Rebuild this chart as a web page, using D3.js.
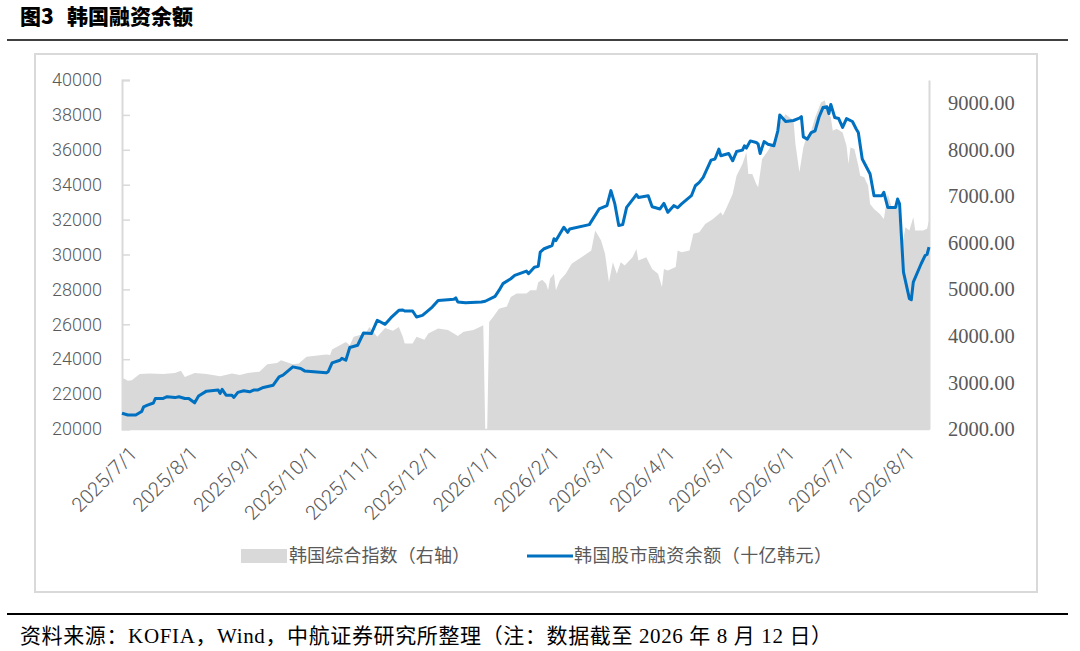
<!DOCTYPE html>
<html>
<head>
<meta charset="utf-8">
<script src="https://cdn.jsdelivr.net/npm/d3@7"></script>
<style>
  body { margin: 0; background: #fff; }
  svg { display: block; }
</style>
</head>
<body>
<div id="chart"></div>
<script>
// 韩国股市融资余额（十亿韩元）
const marginDates = [
  "2025-06-27","2025-06-30","2025-07-04","2025-07-07","2025-07-08","2025-07-10","2025-07-13","2025-07-14",
  "2025-07-18","2025-07-20","2025-07-24","2025-07-26","2025-07-29","2025-07-31","2025-08-03","2025-08-05",
  "2025-08-09","2025-08-15","2025-08-16","2025-08-17","2025-08-19","2025-08-22","2025-08-23","2025-08-25",
  "2025-08-28","2025-08-31","2025-09-02","2025-09-04","2025-09-07","2025-09-12","2025-09-15","2025-09-17",
  "2025-09-22","2025-09-26","2025-09-28","2025-10-09","2025-10-10","2025-10-12","2025-10-16","2025-10-17",
  "2025-10-19","2025-10-21","2025-10-25","2025-10-28","2025-11-01","2025-11-04","2025-11-08","2025-11-11",
  "2025-11-15","2025-11-17","2025-11-18","2025-11-22","2025-11-24","2025-11-27","2025-11-29","2025-12-02",
  "2025-12-05","2025-12-10","2025-12-13","2025-12-14","2025-12-15","2025-12-19","2025-12-27","2025-12-29",
  "2026-01-03","2026-01-05","2026-01-07","2026-01-11","2026-01-13","2026-01-19","2026-01-20","2026-01-23",
  "2026-01-25","2026-01-26","2026-01-28","2026-02-01","2026-02-02","2026-02-03","2026-02-07","2026-02-09",
  "2026-02-10","2026-02-20","2026-02-25","2026-03-01","2026-03-03","2026-03-05","2026-03-07","2026-03-09",
  "2026-03-11","2026-03-16","2026-03-17","2026-03-22","2026-03-24","2026-03-28","2026-03-30","2026-04-01",
  "2026-04-04","2026-04-06","2026-04-08","2026-04-13","2026-04-15","2026-04-17","2026-04-19","2026-04-23",
  "2026-04-25","2026-04-27","2026-04-28","2026-05-02","2026-05-04","2026-05-06","2026-05-09","2026-05-10",
  "2026-05-11","2026-05-13","2026-05-16","2026-05-17","2026-05-18","2026-05-20","2026-05-22","2026-05-25",
  "2026-05-27","2026-05-28","2026-05-31","2026-06-04","2026-06-07","2026-06-08","2026-06-09","2026-06-11",
  "2026-06-13","2026-06-15","2026-06-17","2026-06-19","2026-06-21","2026-06-22","2026-06-23","2026-06-25",
  "2026-06-27","2026-06-29","2026-07-01","2026-07-04","2026-07-06","2026-07-07","2026-07-09","2026-07-13",
  "2026-07-15","2026-07-19","2026-07-20","2026-07-22","2026-07-26","2026-07-27","2026-07-28","2026-07-30",
  "2026-08-02","2026-08-03","2026-08-04","2026-08-08","2026-08-10","2026-08-11","2026-08-12"
];
const marginValues = [
  20900,20800,20800,21000,21270,21370,21490,21750,
  21750,21850,21800,21850,21750,21750,21500,21890,
  22170,22230,22040,22270,21940,21940,21810,22100,
  22190,22130,22230,22230,22380,22510,22990,23090,
  23560,23470,23330,23220,23280,23790,23940,24050,
  23940,24670,24800,25500,25470,26230,26000,26380,
  26800,26820,26760,26760,26420,26510,26700,26990,
  27370,27410,27430,27510,27280,27240,27280,27320,
  27600,27940,28330,28610,28800,29050,28900,29270,
  29320,30130,30330,30510,30900,30800,31560,31270,
  31460,31710,32610,32800,33660,32900,31660,31710,
  32700,33430,33270,33370,32740,32610,32930,32420,
  32800,32680,32900,33370,33940,34130,34420,35410,
  35470,36040,35660,35790,35370,35900,35980,36230,
  36100,36510,36420,36320,35790,36470,36320,36230,
  37090,38000,37620,37680,37810,37900,36740,36610,
  36990,37090,37880,38420,38470,38070,38600,37850,
  37790,37280,37790,37620,37180,36990,35470,34610,
  33370,33370,33560,32700,32700,33180,32900,28990,
  27470,27410,28420,29470,29940,30000,30420
];

// 韩国综合指数（右轴）
const kospiDates = [
  "2025-06-27","2025-06-28","2025-06-30","2025-07-02","2025-07-06","2025-07-11","2025-07-18","2025-07-24",
  "2025-07-27","2025-07-29","2025-08-03","2025-08-09","2025-08-16","2025-08-22","2025-08-26","2025-08-30",
  "2025-09-05","2025-09-09","2025-09-14","2025-09-16","2025-09-22","2025-09-25","2025-09-29","2025-10-09",
  "2025-10-11","2025-10-12","2025-10-19","2025-10-21","2025-10-23","2025-10-29","2025-10-31","2025-11-04",
  "2025-11-08","2025-11-12","2025-11-15","2025-11-17","2025-11-18","2025-11-22","2025-11-24","2025-11-28",
  "2025-11-30","2025-12-05","2025-12-10","2025-12-13","2025-12-15","2025-12-18","2025-12-23","2025-12-27",
  "2025-12-28","2025-12-29","2025-12-30","2025-12-31","2026-01-02","2026-01-05","2026-01-09","2026-01-11",
  "2026-01-14","2026-01-19","2026-01-21","2026-01-24","2026-01-25","2026-01-27","2026-01-29","2026-01-30",
  "2026-01-31","2026-02-02","2026-02-03","2026-02-05","2026-02-08","2026-02-11","2026-02-16","2026-02-21",
  "2026-02-23","2026-02-26","2026-02-28","2026-03-02","2026-03-04","2026-03-06","2026-03-08","2026-03-10",
  "2026-03-14","2026-03-16","2026-03-17","2026-03-21","2026-03-24","2026-03-27","2026-03-29","2026-03-30",
  "2026-04-01","2026-04-05","2026-04-06","2026-04-08","2026-04-12","2026-04-14","2026-04-17","2026-04-20",
  "2026-04-24","2026-04-28","2026-04-29","2026-05-01","2026-05-04","2026-05-06","2026-05-09","2026-05-11",
  "2026-05-12","2026-05-14","2026-05-16","2026-05-17","2026-05-19","2026-05-22","2026-05-26","2026-05-28",
  "2026-05-31","2026-06-04","2026-06-05","2026-06-07","2026-06-09","2026-06-10","2026-06-13","2026-06-15",
  "2026-06-18","2026-06-20","2026-06-21","2026-06-23","2026-06-24","2026-06-26","2026-06-29","2026-07-01",
  "2026-07-02","2026-07-03","2026-07-05","2026-07-07","2026-07-08","2026-07-10","2026-07-12","2026-07-13",
  "2026-07-15","2026-07-18","2026-07-20","2026-07-22","2026-07-24","2026-07-27","2026-07-29","2026-07-31",
  "2026-08-02","2026-08-04","2026-08-05","2026-08-09","2026-08-11","2026-08-12"
];
const kospiValues = [
  3065,3085,3035,3050,3180,3195,3180,3205,
  3250,3120,3205,3180,3135,3195,3160,3205,
  3230,3390,3420,3480,3390,3410,3550,3600,
  3590,3710,3870,3800,3980,4050,4190,3980,
  4170,4110,4190,3980,3840,3840,3980,3920,
  4050,4160,4130,4050,4000,4090,4130,4210,
  4230,2000,2000,4300,4405,4585,4635,4835,
  4910,4910,4980,4980,5155,5205,5120,4980,
  5230,5335,4980,5195,5335,5550,5690,5835,
  6265,6050,5765,5155,5585,5335,5585,5515,
  5690,5870,5620,5690,5440,5335,5050,5440,
  5405,5480,5835,5800,5835,6195,6230,6405,
  6515,6660,6590,6765,7050,7445,7695,7945,
  7480,7480,7265,7195,7800,7980,8265,8585,
  8765,8630,8120,7515,8050,8195,8410,8695,
  9015,9065,8835,8695,8410,8450,8370,8085,
  7695,8050,8015,7660,7445,7410,7230,6835,
  6730,6620,6515,7050,6765,6835,5870,6335,
  6265,6550,6265,6265,6305,6480
];

const leftTicks = [20000,22000,24000,26000,28000,30000,32000,34000,36000,38000,40000];
const rightTicks = [2000,3000,4000,5000,6000,7000,8000,9000];
const monthTicks = ["2025-07-01","2025-08-01","2025-09-01","2025-10-01","2025-11-01","2025-12-01","2026-01-01",
  "2026-02-01","2026-03-01","2026-04-01","2026-05-01","2026-06-01","2026-07-01","2026-08-01"];

const parse = d3.timeParse("%Y-%m-%d");
const fmtTick = d3.timeFormat("%Y/%-m/%-d");

const margin = marginDates.map((d, i) => ({ date: parse(d), value: marginValues[i] }));
const kospi = kospiDates.map((d, i) => ({ date: parse(d), value: kospiValues[i] }));

const svg = d3.select("#chart").append("svg")
  .attr("width", 1080)
  .attr("height", 651);

const grey = "#d9d9d9";
const textGrey = "#595959";

// 标题和分割线
const title = svg.append("text")
  .attr("y", 24)
  .style("font-family", "'Noto Sans CJK SC'")
  .style("font-weight", 900)
  .style("font-size", "21px")
  .attr("fill", "#000");
title.append("tspan").attr("x", 20).text("图3");
title.append("tspan").attr("x", 67).text("韩国融资余额");

svg.append("line").attr("x1", 7).attr("x2", 1068).attr("y1", 40).attr("y2", 40)
  .attr("stroke", "#000").attr("stroke-width", 1.5);

svg.append("rect")
  .attr("x", 35).attr("y", 54).attr("width", 1002).attr("height", 538)
  .attr("fill", "none").attr("stroke", grey).attr("stroke-width", 2);

// scales
const x = d3.scaleTime()
  .domain([parse("2025-06-27"), parse("2026-08-12")])
  .range([122, 929]);
const yL = d3.scaleLinear().domain([20000, 40000]).range([429, 80]);
const yR = d3.scaleLinear().domain([2000, 9500]).range([429, 80]);

// 韩国综合指数面积
const area = d3.area()
  .x(d => x(d.date))
  .y0(yR(2000))
  .y1(d => yR(d.value));

svg.append("path")
  .datum(kospi)
  .attr("fill", grey)
  .attr("d", area);

// 左轴
const leftAxis = svg.append("g")
  .attr("transform", "translate(122,0)")
  .call(d3.axisRight(yL).tickValues(leftTicks).tickSize(8).tickFormat(d3.format("d")));
leftAxis.select(".domain").attr("stroke", grey).attr("stroke-width", 2);
leftAxis.selectAll(".tick line").attr("stroke", grey).attr("stroke-width", 1.5);
leftAxis.selectAll(".tick text")
  .attr("x", -20)
  .attr("text-anchor", "end")
  .attr("fill", textGrey)
  .style("font-family", "Roboto")
  .style("font-weight", 300)
  .style("font-size", "18px");

// 右轴
const rightAxis = svg.append("g")
  .attr("transform", "translate(929,0)")
  .call(d3.axisRight(yR).tickValues(rightTicks).tickSize(0).tickFormat(d3.format(".2f")));
rightAxis.select(".domain").attr("stroke", grey).attr("stroke-width", 2);
rightAxis.selectAll(".tick text")
  .attr("x", 19)
  .attr("fill", textGrey)
  .style("font-family", "'Liberation Serif'")
  .style("font-size", "20.5px");

// x轴
const xAxis = svg.append("g")
  .attr("transform", "translate(0,429)")
  .call(d3.axisBottom(x).tickValues(monthTicks.map(parse)).tickSize(0).tickFormat(fmtTick));
xAxis.select(".domain").attr("stroke", grey).attr("stroke-width", 1.5);
xAxis.selectAll(".tick text")
  .attr("y", 0)
  .attr("dy", 0)
  .attr("text-anchor", "end")
  .attr("transform", "translate(8,26) rotate(-45)")
  .attr("fill", textGrey)
  .style("font-family", "Roboto")
  .style("font-weight", 300)
  .style("font-size", "20px");

// 融资余额折线
const line = d3.line()
  .x(d => x(d.date))
  .y(d => yL(d.value));

svg.append("path")
  .datum(margin)
  .attr("fill", "none")
  .attr("stroke", "#0070c0")
  .attr("stroke-width", 3)
  .attr("stroke-linejoin", "round")
  .attr("d", line);

// 图例
const legend = svg.append("g")
  .style("font-family", "'Noto Sans CJK SC'")
  .style("font-size", "18px")
  .attr("fill", textGrey);
legend.append("rect").attr("x", 241).attr("y", 549).attr("width", 46).attr("height", 14).attr("fill", grey);
legend.append("text").attr("x", 289).attr("y", 562)
  .attr("textLength", 181).attr("lengthAdjust", "spacing")
  .text("韩国综合指数（右轴）");
legend.append("line").attr("x1", 527).attr("x2", 573).attr("y1", 556).attr("y2", 556)
  .attr("stroke", "#0070c0").attr("stroke-width", 3);
legend.append("text").attr("x", 574).attr("y", 562)
  .attr("textLength", 258).attr("lengthAdjust", "spacing")
  .text("韩国股市融资余额（十亿韩元）");

// 底部
svg.append("line").attr("x1", 7).attr("x2", 1068).attr("y1", 614).attr("y2", 614)
  .attr("stroke", "#000").attr("stroke-width", 2);

svg.append("text")
  .attr("x", 20).attr("y", 643)
  .attr("textLength", 812).attr("lengthAdjust", "spacing")
  .style("font-family", "'Liberation Serif', 'Noto Sans CJK SC'")
  .style("font-size", "21px")
  .attr("fill", "#000")
  .text("资料来源：KOFIA，Wind，中航证券研究所整理（注：数据截至 2026 年 8 月 12 日）");
</script>
</body>
</html>
